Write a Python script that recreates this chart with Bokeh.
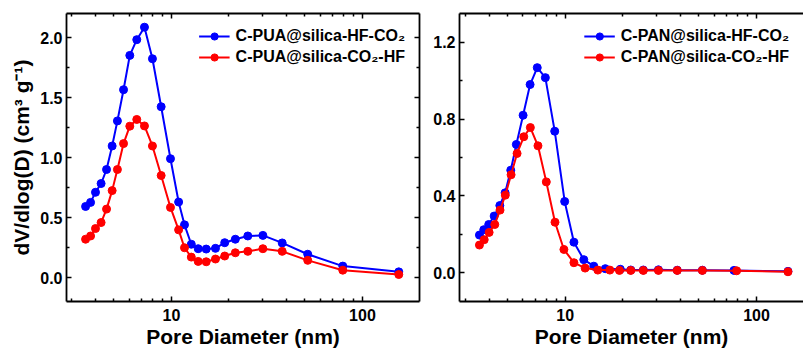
from bokeh.plotting import figure
from bokeh.layouts import row
from bokeh.models import FixedTicker, LinearAxis, LogAxis, PrintfTickFormatter, BasicTickFormatter, Range1d
from bokeh.embed import file_html
from bokeh.resources import INLINE

# ---- data ----
pua_x = [3.55, 3.77, 4.00, 4.28, 4.57, 4.89, 5.21, 5.61, 6.05, 6.58, 7.22, 7.95, 8.83, 9.88,
         10.9, 11.7, 12.7, 13.8, 15.2, 17.0, 19.0, 21.6, 25.1, 30.1, 38.0, 51.7, 78.9, 155]
pua_hf_co2 = [0.592, 0.626, 0.710, 0.783, 0.900, 1.096, 1.305, 1.565, 1.851, 1.982, 2.086, 1.823,
              1.423, 0.990, 0.629, 0.439, 0.277, 0.240, 0.237, 0.243, 0.290, 0.319, 0.346, 0.351,
              0.288, 0.194, 0.095, 0.047]
pua_co2_hf = [0.319, 0.346, 0.408, 0.458, 0.570, 0.724, 0.900, 1.116, 1.261, 1.317, 1.263, 1.096,
              0.850, 0.584, 0.397, 0.248, 0.170, 0.134, 0.131, 0.154, 0.179, 0.206, 0.218, 0.240,
              0.218, 0.143, 0.061, 0.025]

pan_x_a = [3.56, 3.75, 3.98, 4.25, 4.55, 4.85, 5.19, 5.55, 6.02, 6.55, 7.14, 7.87, 8.81, 9.93,
           11.1, 12.5, 14.1, 16.2, 19.4, 22.0, 25.6, 30.7, 38.5, 52.1, 76.2, 146]
pan_hf_co2 = [0.196, 0.224, 0.251, 0.295, 0.350, 0.416, 0.534, 0.668, 0.820, 0.980, 1.068, 1.016,
              0.737, 0.371, 0.159, 0.068, 0.034, 0.021, 0.018, 0.014, 0.014, 0.015, 0.013, 0.013,
              0.012, 0.007]
pan_x_b = [3.56, 3.77, 4.00, 4.28, 4.56, 4.86, 5.21, 5.60, 6.07, 6.57, 7.20, 7.96, 8.84, 9.84,
           11.1, 12.7, 14.8, 17.1, 19.2, 22.0, 25.6, 30.7, 38.5, 52.1, 78.7, 146]
pan_co2_hf = [0.144, 0.172, 0.210, 0.251, 0.326, 0.404, 0.510, 0.621, 0.708, 0.756, 0.661, 0.473,
              0.263, 0.121, 0.052, 0.024, 0.0135, 0.0135, 0.012, 0.012, 0.012, 0.012, 0.012, 0.012,
              0.010, 0.005]

labels_pua = ["C-PUA@silica-HF-CO\u2082", "C-PUA@silica-CO\u2082-HF"]
labels_pan = ["C-PAN@silica-HF-CO\u2082", "C-PAN@silica-CO\u2082-HF"]
x_title = "Pore Diameter (nm)"
y_title = "dV/dlog(D) (cm\u00b3 g\u207b\u00b9)"

FONT = "Liberation Sans"
BLUE = "#0000FF"
RED = "#FF0000"

x_major = [10, 100]
x_minor = [3, 4, 5, 6, 7, 8, 9, 20, 30, 40, 50, 60, 70, 80, 90, 200]


def style_axis(ax, show_labels=True):
    ax.axis_line_width = 1.8
    ax.axis_line_color = "black"
    ax.major_tick_in = 5
    ax.major_tick_out = 0
    ax.minor_tick_in = 3
    ax.minor_tick_out = 0
    ax.major_tick_line_width = 1.5
    ax.minor_tick_line_width = 1.5
    ax.major_tick_line_color = "black"
    ax.minor_tick_line_color = "black"
    ax.major_label_text_font = FONT
    ax.major_label_text_font_style = "bold"
    ax.major_label_text_color = "black"
    ax.axis_label_text_font = FONT
    ax.axis_label_text_font_style = "bold"
    ax.axis_label_text_font_size = "21px"
    ax.axis_label_text_color = "black"
    if show_labels:
        ax.major_label_text_font_size = "16px"
    else:
        ax.major_label_text_font_size = "1px"
        ax.major_label_text_alpha = 0
        ax.major_label_standoff = 0


def make_panel(width, border_left, border_right, x_rng, y_rng, y_major, y_minor,
               xa, ya, xb, yb, labels, y_label, right_axis):
    p = figure(width=width, height=350, x_axis_type="log",
               x_range=Range1d(*x_rng), y_range=Range1d(*y_rng),
               output_backend="svg", toolbar_location=None,
               min_border_left=border_left, min_border_right=border_right,
               min_border_top=13, min_border_bottom=49)
    p.grid.visible = False
    p.outline_line_color = None
    p.background_fill_color = "white"
    p.border_fill_color = "white"

    xt = FixedTicker(ticks=x_major, minor_ticks=x_minor)
    yt = FixedTicker(ticks=y_major, minor_ticks=y_minor)

    xax = p.xaxis[0]
    xax.ticker = xt
    xax.formatter = BasicTickFormatter()
    xax.axis_label = x_title
    style_axis(xax)
    xax.major_label_standoff = 7
    xax.axis_label_standoff = 1

    yax = p.yaxis[0]
    yax.ticker = yt
    yax.formatter = PrintfTickFormatter(format="%.1f")
    if y_label:
        yax.axis_label = y_label
    style_axis(yax)
    yax.major_label_standoff = 4
    yax.axis_label_standoff = 4

    top = LogAxis(ticker=FixedTicker(ticks=x_major, minor_ticks=x_minor))
    style_axis(top, show_labels=False)
    p.add_layout(top, "above")
    if right_axis:
        rax = LinearAxis(ticker=FixedTicker(ticks=y_major, minor_ticks=y_minor))
        style_axis(rax, show_labels=False)
        p.add_layout(rax, "right")

    p.line(xa, ya, color=BLUE, line_width=2, legend_label=labels[0])
    p.scatter(xa, ya, marker="circle", size=8, color=BLUE, legend_label=labels[0])
    p.line(xb, yb, color=RED, line_width=2, legend_label=labels[1])
    p.scatter(xb, yb, marker="circle", size=8, color=RED, legend_label=labels[1])

    lg = p.legend[0]
    lg.location = "top_right"
    lg.border_line_color = None
    lg.background_fill_alpha = 0
    lg.label_text_font = FONT
    lg.label_text_font_style = "bold"
    lg.label_text_font_size = "16px"
    lg.label_text_color = "black"
    lg.glyph_width = 31
    lg.glyph_height = 18
    lg.label_height = 18
    lg.label_standoff = 6
    lg.spacing = 3
    lg.padding = 6
    lg.margin = 14
    return p


p1 = make_panel(425, 66, 6, (2.82, 199), (-0.2, 2.2),
                [0, 0.5, 1.0, 1.5, 2.0], [0.25, 0.75, 1.25, 1.75],
                pua_x, pua_hf_co2, pua_x, pua_co2_hf, labels_pua, y_title, True)
p2 = make_panel(378, 34, 0, (2.80, 176), (-0.15, 1.35),
                [0, 0.4, 0.8, 1.2], [-0.2, 0.2, 0.6, 1.0],
                pan_x_a, pan_hf_co2, pan_x_b, pan_co2_hf, labels_pan, None, False)

layout = row(p1, p2)
open("out.html", "w").write(file_html(layout, INLINE))
